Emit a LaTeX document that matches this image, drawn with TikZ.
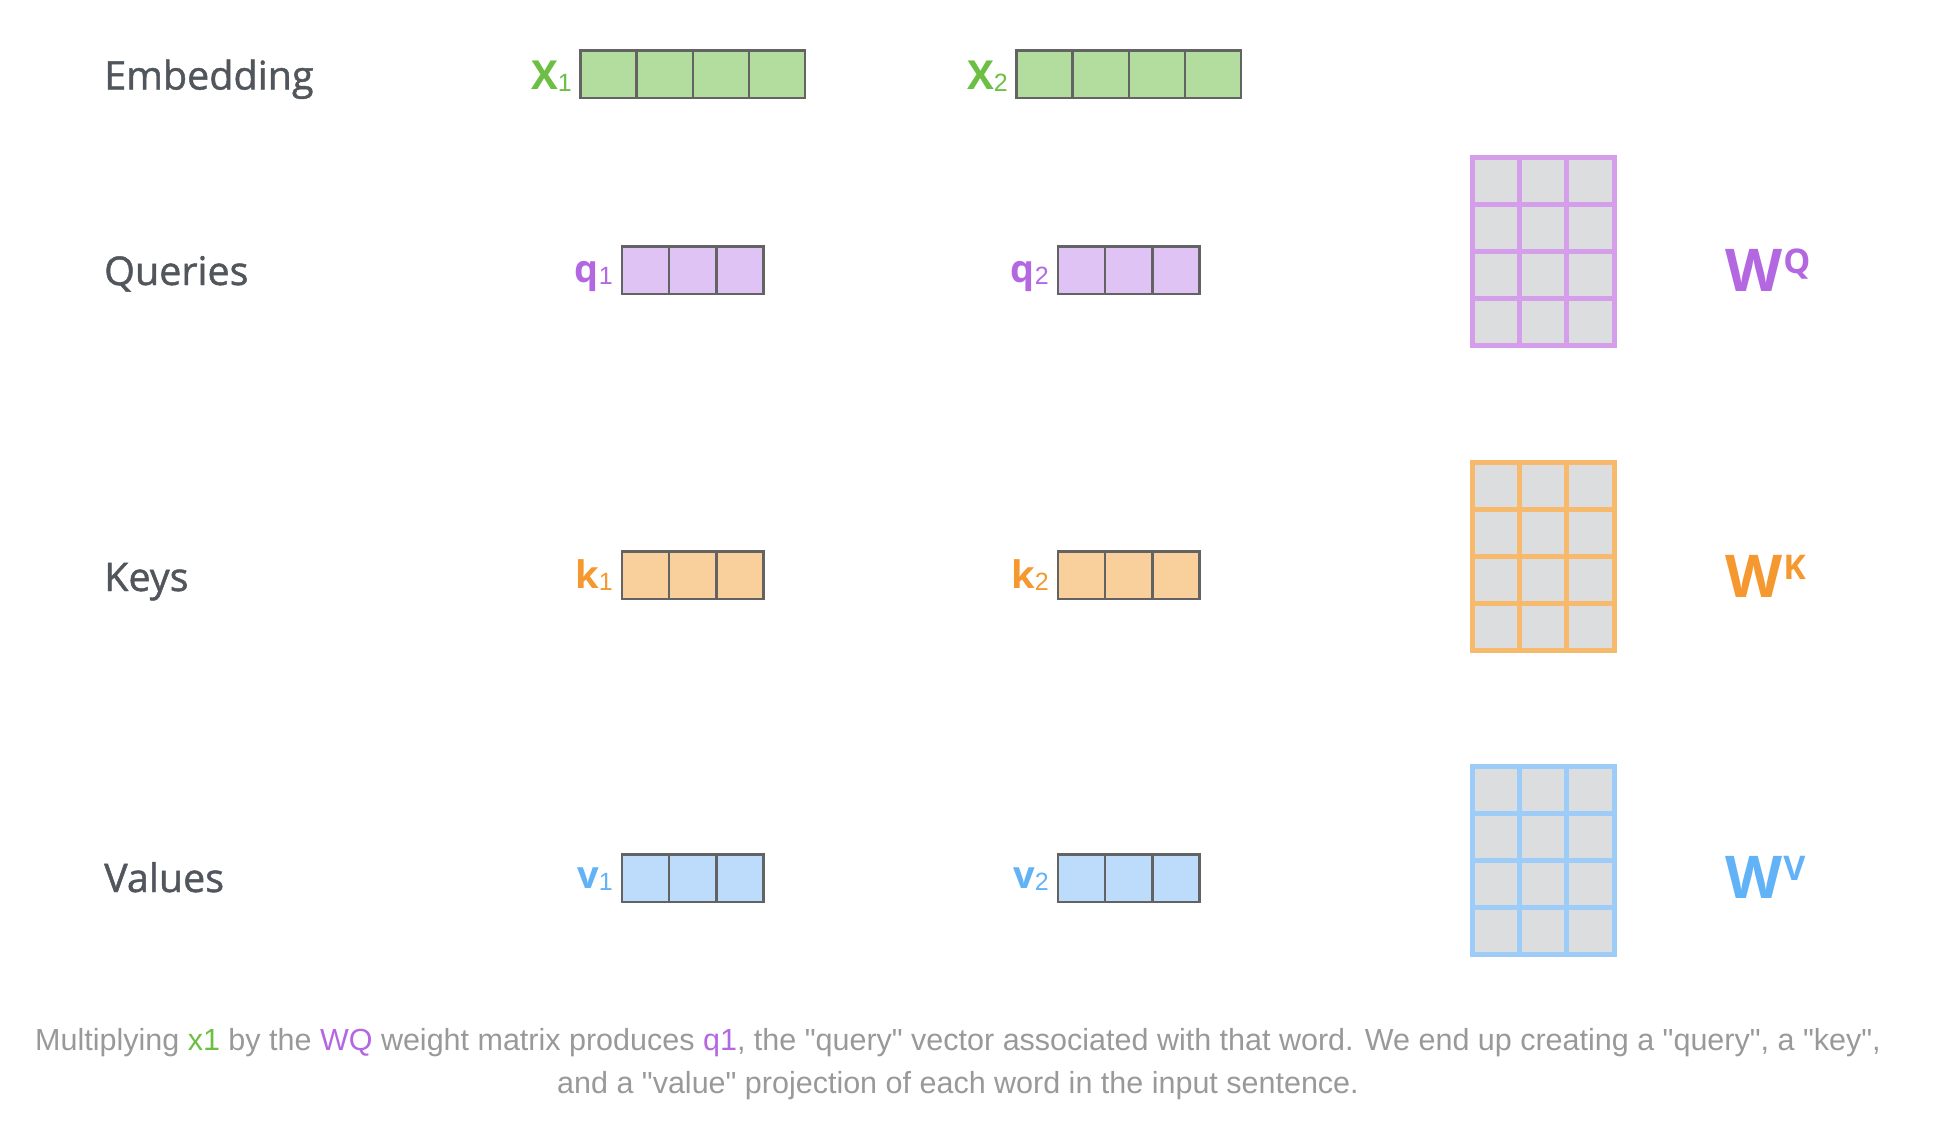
\documentclass[tikz,border=0pt]{standalone}
\usepackage{fontspec}
\setmainfont{Liberation Sans}[Ligatures=TeXOff]
\newfontfamily\osans{Open Sans}
\newfontfamily\osanssb{Open Sans}[FakeBold=1.2]
\usetikzlibrary{calc}
\definecolor{labelgray}{HTML}{51565D}
\definecolor{capgray}{HTML}{999999}
\definecolor{boxgray}{HTML}{636363}
\definecolor{cellgray}{HTML}{DCDDDF}
\definecolor{xgreen}{HTML}{6CBF43}
\definecolor{xfill}{HTML}{B2DD9E}
\definecolor{qpurple}{HTML}{B368E2}
\definecolor{qfill}{HTML}{E0C3F5}
\definecolor{qline}{HTML}{D59EEB}
\definecolor{korange}{HTML}{F4982F}
\definecolor{kfill}{HTML}{F9CF9C}
\definecolor{kline}{HTML}{F7B96C}
\definecolor{vblue}{HTML}{62B2F7}
\definecolor{vfill}{HTML}{BDDBFA}
\definecolor{vline}{HTML}{9DCCF8}
\newcommand\rowfont{\osanssb\fontsize{39.5}{46}\selectfont}
\newcommand\veclab[3]{{\osans\bfseries\fontsize{#3}{#3}\selectfont #1}\raisebox{-2pt}{\fontsize{25}{25}\selectfont #2}}
\newcommand\wlab[1]{{\osans\bfseries\fontsize{59}{59}\selectfont W}\hspace{1pt}\raisebox{17.7pt}{\osans\bfseries\fontsize{34}{34}\selectfont #1}}
\tikzset{
  rowlabel/.style={anchor=base west, inner sep=0pt, text=labelgray, font=\rowfont},
  veclabel/.style={anchor=base east, inner sep=0pt},
  vecbox/.style={draw=boxgray, line width=2.5pt, inner sep=0pt, outer sep=0pt, minimum height=47.5pt},
  divider/.style={draw=boxgray, line width=2.5pt},
  wmat/.style={fill=cellgray, line width=5pt, inner sep=0pt, outer sep=0pt, minimum width=142pt, minimum height=188.5pt},
  wlabel/.style={anchor=base west, inner sep=0pt},
  caption/.style={anchor=base, inner sep=0pt, text=capgray, font=\fontsize{30.5}{36}\selectfont},
}
\begin{document}
\begin{tikzpicture}[x=1pt,y=-1pt]
\useasboundingbox (0,0) rectangle (1960,1146);
% row labels
\node[rowlabel] (lemb) at (104,89.5) {Embedding};
\node[rowlabel] (lq) at (104,285) {Queries};
\node[rowlabel] (lk) at (104,591) {Keys};
\node[rowlabel] (lv) at (104,892) {Values};
% embedding vectors
\node[vecbox, fill=xfill, minimum width=224.5pt] (x1) at (692.75,74) {};
\node[vecbox, fill=xfill, minimum width=224.5pt] (x2) at (1128.75,74) {};
\foreach \n in {x1,x2}{
  \foreach \i in {1,2,3}{
    \draw[divider] ($(\n.north west)!\i/4!(\n.north east)$) -- ($(\n.south west)!\i/4!(\n.south east)$);
  }
}
% q, k, v vectors
\node[vecbox, fill=qfill, minimum width=141.6pt] (q1) at (692.8,270) {};
\node[vecbox, fill=qfill, minimum width=141.6pt] (q2) at (1128.8,270) {};
\node[vecbox, fill=kfill, minimum width=141.6pt] (k1) at (692.8,575) {};
\node[vecbox, fill=kfill, minimum width=141.6pt] (k2) at (1128.8,575) {};
\node[vecbox, fill=vfill, minimum width=141.6pt] (v1) at (692.8,878) {};
\node[vecbox, fill=vfill, minimum width=141.6pt] (v2) at (1128.8,878) {};
\foreach \n in {q1,q2,k1,k2,v1,v2}{
  \foreach \i in {1,2}{
    \draw[divider] ($(\n.north west)!\i/3!(\n.north east)$) -- ($(\n.south west)!\i/3!(\n.south east)$);
  }
}
% vector labels
\node[veclabel, text=xgreen] (x1l) at (572,89) {\veclab{X}{1}{40}};
\node[veclabel, text=xgreen] (x2l) at (1008,89) {\veclab{X}{2}{40}};
\node[veclabel, text=qpurple] (q1l) at (613,282) {\veclab{q}{1}{38}};
\node[veclabel, text=qpurple] (q2l) at (1049,282) {\veclab{q}{2}{38}};
\node[veclabel, text=korange] (k1l) at (613,588) {\veclab{k}{1}{38}};
\node[veclabel, text=korange] (k2l) at (1049,588) {\veclab{k}{2}{38}};
\node[veclabel, text=vblue] (v1l) at (613,888) {\veclab{v}{1}{38}};
\node[veclabel, text=vblue] (v2l) at (1049,888) {\veclab{v}{2}{38}};
% weight matrices
\node[wmat, draw=qline] (wq) at (1543,251.6) {};
\node[wmat, draw=kline] (wk) at (1543,556.7) {};
\node[wmat, draw=vline] (wv) at (1543,860.5) {};
\foreach \n/\c in {wq/qline,wk/kline,wv/vline}{
  \foreach \i in {1,2}{
    \draw[draw=\c, line width=5pt] ($(\n.north west)!\i/3!(\n.north east)$) -- ($(\n.south west)!\i/3!(\n.south east)$);
  }
  \foreach \j in {1,2,3}{
    \draw[draw=\c, line width=5pt] ($(\n.north west)!\j/4!(\n.south west)$) -- ($(\n.north east)!\j/4!(\n.south east)$);
  }
}
% W labels
\node[wlabel, text=qpurple] (wql) at (1725,291) {\wlab{Q}};
\node[wlabel, text=korange] (wkl) at (1725,597) {\wlab{K}};
\node[wlabel, text=vblue] (wvl) at (1725,898) {\wlab{V}};
% caption
\node[caption] (cap1) at (958,1050) {Multiplying \textcolor{xgreen}{x1} by the \textcolor{qpurple}{WQ} weight matrix produces \textcolor{qpurple}{q1}, the "query" vector associated with that word. We end up creating a "query", a "key",};
\node[caption] (cap2) at (958,1093) {and a "value" projection of each word in the input sentence.};
\end{tikzpicture}
\end{document}
